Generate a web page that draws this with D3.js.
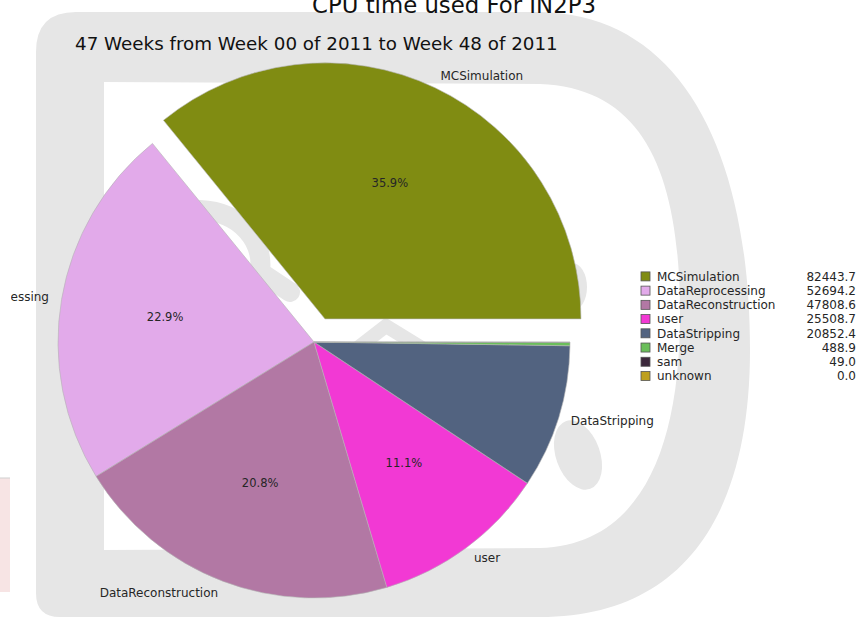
<!DOCTYPE html>
<html>
<head>
<meta charset="utf-8">
<script src="https://cdn.jsdelivr.net/npm/d3@7"></script>
<style>
  body { margin: 0; background: #fff; }
  svg { display: block; font-family: "DejaVu Sans", sans-serif; }
</style>
</head>
<body>
<div id="chart"></div>
<script>

var chartWidth = 859;
var chartHeight = 617;

// data
var categories = ["MCSimulation", "DataReprocessing", "DataReconstruction", "user",
                  "DataStripping", "Merge", "sam", "unknown"];
var cpuValues = [82443.7, 52694.2, 47808.6, 25508.7, 20852.4, 488.9, 49.0, 0.0];
var sliceColors = ["#808c12", "#e2aaea", "#b278a4", "#f239d4",
                   "#526380", "#6abe5a", "#3c283c", "#bea01e"];
var explode = [0.1, 0, 0, 0, 0, 0, 0, 0];
var titleText = "CPU time used For IN2P3";
var subTitleText = "47 Weeks from Week 00 of 2011 to Week 48 of 2011";

var svg;
var pieCenter = { x: 314, y: 342 };
var radius = 256;

document.addEventListener('DOMContentLoaded', function() {
  svg = d3.select('#chart').append('svg')
    .attr('width', chartWidth)
    .attr('height', chartHeight)
    .attr('viewBox', [0, 0, chartWidth, chartHeight]);

  // the plot area is cut off a bit in from the left side
  svg.append('clipPath').attr('id', 'plot-clip')
    .append('rect')
    .attr('x', 11).attr('y', 0)
    .attr('width', chartWidth - 11).attr('height', chartHeight);

  drawWatermark();
  drawPie();
  drawLegend();
  drawTitles();
});

// the grey DIRAC "D" behind the pie
function drawWatermark() {
  let g = svg.append('g').attr('fill', '#e6e6e6');

  g.append('path')
    .attr('fill-rule', 'evenodd')
    .attr('d', 'M76,12 L540,12 C680,14 750,150 750,350 C750,520 680,617 540,617 L60,617 Q36,617 36,593 L36,52 Q36,12 76,12 Z ' +
               'M104,82 L540,84 C645,88 680,175 680,315 C680,450 640,545 540,548 L104,550 Z');

  // bits of the inner figure that show round the pie
  g.append('path')
    .attr('fill', 'none')
    .attr('stroke', '#e6e6e6')
    .attr('stroke-width', 20)
    .attr('stroke-linecap', 'round')
    .attr('d', 'M200,210 C242,212 264,242 260,272 L290,292');
  g.append('path')
    .attr('fill', 'none')
    .attr('stroke', '#e6e6e6')
    .attr('stroke-width', 14)
    .attr('d', 'M355,350 L386,326 L425,350');
  g.append('ellipse').attr('cx', 572).attr('cy', 287).attr('rx', 15).attr('ry', 24);
  g.append('ellipse')
    .attr('transform', 'translate(578,455) rotate(-20)')
    .attr('rx', 22).attr('ry', 36);

  // clipped piece on the left edge
  svg.append('rect')
    .attr('x', 0).attr('y', 478).attr('width', 10).attr('height', 114)
    .attr('fill', '#f7e4e4');
  svg.append('line')
    .attr('x1', 0).attr('x2', 10).attr('y1', 478).attr('y2', 478)
    .attr('stroke', '#cfcfcf');
}

function drawPie() {
  let total = d3.sum(cpuValues);

  // matplotlib style: start at 3 o'clock, go counter clockwise
  let pie = d3.pie()
    .sort(null)
    .value(d => d)
    .startAngle(Math.PI / 2)
    .endAngle(Math.PI / 2 - 2 * Math.PI);

  let arcs = pie(cpuValues).map((a, i) => {
    let mid = (a.startAngle + a.endAngle) / 2;
    a.name = categories[i];
    a.color = sliceColors[i];
    a.pct = a.value / total * 100;
    a.dx = Math.sin(mid) * explode[i] * radius;
    a.dy = -Math.cos(mid) * explode[i] * radius;
    return a;
  }).filter(a => a.value > 0);

  let arc = d3.arc().innerRadius(0).outerRadius(radius);
  let labelArc = d3.arc().innerRadius(radius * 1.05).outerRadius(radius * 1.05);
  let pctArc = d3.arc().innerRadius(radius * 0.59).outerRadius(radius * 0.59);

  let outer = svg.append('g').attr('clip-path', 'url(#plot-clip)');
  let g = outer.append('g')
    .attr('transform', `translate(${pieCenter.x},${pieCenter.y})`);

  g.selectAll('path.slice')
    .data(arcs)
    .enter()
    .append('path')
    .attr('class', 'slice')
    .attr('transform', d => `translate(${d.dx},${d.dy})`)
    .attr('d', arc)
    .attr('fill', d => d.color)
    .attr('stroke', '#b4b4b4')
    .attr('stroke-width', 0.6);

  // names only for the big ones
  g.selectAll('text.name')
    .data(arcs.filter(d => d.pct >= 5))
    .enter()
    .append('text')
    .attr('class', 'name')
    .attr('x', d => labelArc.centroid(d)[0] + d.dx)
    .attr('y', d => labelArc.centroid(d)[1] + d.dy)
    .attr('dy', '0.3em')
    .attr('text-anchor', d => labelArc.centroid(d)[0] > 0 ? 'start' : 'end')
    .style('font-size', '12px')
    .style('fill', '#262626')
    .text(d => d.name);

  g.selectAll('text.pct')
    .data(arcs.filter(d => d.pct >= 10))
    .enter()
    .append('text')
    .attr('class', 'pct')
    .attr('x', d => pctArc.centroid(d)[0] + d.dx)
    .attr('y', d => pctArc.centroid(d)[1] + d.dy)
    .attr('dy', '0.35em')
    .attr('text-anchor', 'middle')
    .style('font-size', '11.5px')
    .style('fill', '#262626')
    .text(d => d.pct.toFixed(1) + '%');
}

function drawLegend() {
  let rowScale = d3.scaleLinear()
    .domain([0, categories.length - 1])
    .range([276.4, 376]);

  let g = svg.append('g');
  let rows = g.selectAll('g.row')
    .data(categories)
    .enter()
    .append('g')
    .attr('class', 'row')
    .attr('transform', (d, i) => `translate(0,${rowScale(i)})`);

  rows.append('rect')
    .attr('x', 641)
    .attr('y', -4.5)
    .attr('width', 9)
    .attr('height', 9)
    .attr('fill', (d, i) => sliceColors[i])
    .attr('stroke', '#555')
    .attr('stroke-width', 0.8);

  rows.append('text')
    .attr('x', 657)
    .attr('dy', '0.35em')
    .style('font-size', '12px')
    .style('fill', '#262626')
    .text(d => d);

  rows.append('text')
    .attr('x', 856)
    .attr('dy', '0.35em')
    .attr('text-anchor', 'end')
    .style('font-size', '12px')
    .style('fill', '#262626')
    .text((d, i) => cpuValues[i].toFixed(1));
}

function drawTitles() {
  svg.append('text')
    .attr('x', 454)
    .attr('y', 12.5)
    .attr('text-anchor', 'middle')
    .style('font-size', '22.8px')
    .style('fill', '#111')
    .text(titleText);

  svg.append('text')
    .attr('x', 75)
    .attr('y', 50)
    .style('font-size', '18.3px')
    .style('fill', '#111')
    .text(subTitleText);
}
</script>
</body>
</html>
